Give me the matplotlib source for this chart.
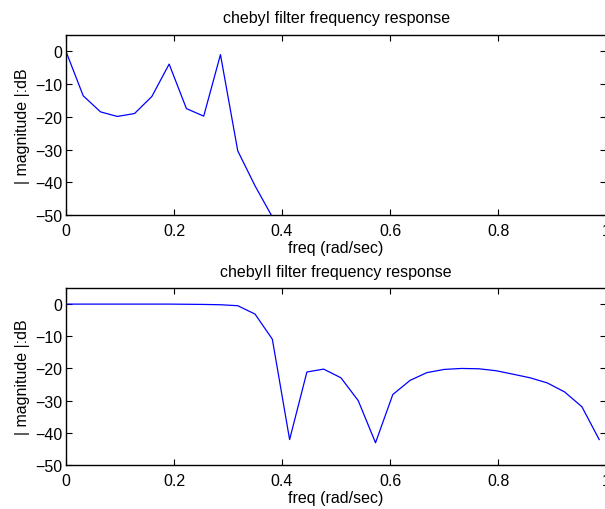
import matplotlib.pyplot as plt

plt.rcParams['font.family'] = ['Liberation Sans', 'DejaVu Sans']
plt.rcParams['font.size'] = 11.5

# frecuencias normalizadas (32 puntos)
freq = [0.000, 0.032, 0.064, 0.095, 0.127, 0.159, 0.191, 0.223,
        0.255, 0.286, 0.318, 0.350, 0.382, 0.414, 0.446, 0.477,
        0.509, 0.541, 0.573, 0.605, 0.637, 0.668, 0.700, 0.732,
        0.764, 0.796, 0.828, 0.859, 0.891, 0.923, 0.955, 0.987]

# chebyI (dB)
cheby1_db = [0.0, -13.6, -18.5, -19.9, -19.0, -13.8, -3.9, -17.5,
             -19.8, -1.0, -30.4, -41.1, -50.6, -58.0, -64.0, -69.0,
             -73.0, -77.0, -80.0, -83.0, -86.0, -88.0, -90.0, -92.0,
             -94.0, -96.0, -97.0, -98.0, -99.0, -100.0, -101.0, -101.5]

# chebyII (dB)
cheby2_db = [0.0, 0.0, 0.0, 0.0, 0.0, 0.0, 0.0, -0.05,
             -0.1, -0.2, -0.5, -3.1, -10.9, -42.1, -21.1, -20.2,
             -22.9, -30.0, -43.1, -28.1, -23.7, -21.3, -20.3, -20.0,
             -20.1, -20.7, -21.8, -22.9, -24.5, -27.3, -31.9, -42.1]

fig = plt.figure(figsize=(6.05, 5.10), dpi=100)
ax1 = fig.add_axes([0.109, 0.5765, 0.893, 0.353])
ax2 = fig.add_axes([0.109, 0.0863, 0.893, 0.347])

for ax, y, tit in [(ax1, cheby1_db, 'chebyI filter frequency response'),
                   (ax2, cheby2_db, 'chebyII filter frequency response')]:
    ax.plot(freq, y, color=(0, 0, 1), lw=0.9)
    ax.set_xlim(0, 1)
    ax.set_ylim(-50, 5)
    ax.set_xticks([0, 0.2, 0.4, 0.6, 0.8, 1])
    ax.set_xticklabels(['0', '0.2', '0.4', '0.6', '0.8', '1'])
    ax.set_yticks([0, -10, -20, -30, -40, -50])
    ax.tick_params(direction='in', length=4, top=True, right=True, width=0.8)
    ax.tick_params(axis='x', pad=6)
    ax.tick_params(axis='y', pad=2.5)
    ax.set_title(tit, fontsize=11.5, pad=9)
    ax.set_xlabel('freq (rad/sec)', labelpad=1)
    ax.set_ylabel('| magnitude |:dB', labelpad=4)
    for s in ax.spines.values():
        s.set_linewidth(1.0)

fig.savefig('out.png', dpi=100)
